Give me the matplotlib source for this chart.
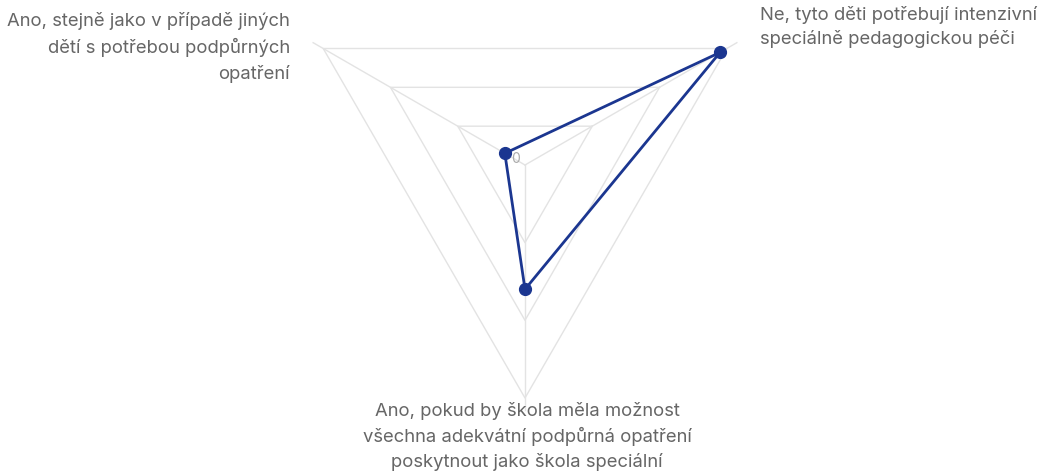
import numpy as np
import matplotlib
matplotlib.use("Agg")
import matplotlib.pyplot as plt

# data
categories = [
    "Ne, tyto děti potřebují intenzivní\nspeciálně pedagogickou péči",
    "Ano, stejně jako v případě jiných\ndětí s potřebou podpůrných\nopatření",
    "Ano, pokud by škola měla možnost\nvšechna adekvátní podpůrná opatření\nposkytnout jako škola speciální",
]
angles_deg = [30, 150, 270]
values = [29, 3, 16]
ring_levels = [10, 20, 30]
r_max = 30

W, H = 1041, 471
fig = plt.figure(figsize=(W / 100, H / 100), dpi=100, facecolor="white")
plt.rcParams["font.family"] = ["Inter", "DejaVu Sans"]

# polar axes placed so that the centre sits at (525, 165) px with radius 233 px
cx, cy, R = 525, 165, 233
ax = fig.add_axes([(cx - R) / W, (H - cy - R) / H, 2 * R / W, 2 * R / H],
                  projection="polar")
ax.set_ylim(0, r_max)
ax.set_axis_off()

theta = np.deg2rad(angles_deg)
theta_closed = np.append(theta, theta[0])

grid_col = "#e3e3e3"
for lvl in ring_levels:
    ax.plot(theta_closed, [lvl] * len(theta_closed), color=grid_col,
            lw=1.0, zorder=1, clip_on=False)
for t in theta:
    ax.plot([t, t], [0, r_max * 1.05], color=grid_col, lw=1.0,
            zorder=1, clip_on=False)

line_col = "#1b3690"
vals_closed = values + values[:1]
ax.plot(theta_closed, vals_closed, color=line_col, lw=2.0, zorder=3,
        clip_on=False)
ax.plot(theta, values, "o", color=line_col, ms=8.5, zorder=4, clip_on=False)

# tick label at centre
ax.annotate("0", xy=(0, 0), xytext=(-7, 4), textcoords="offset points",
            fontsize=10, color="#aaaaaa", ha="center", va="center", zorder=2)

# axis labels (pixel positions converted to figure fractions)
txt_col = "#666666"
fs = 13.3
fig.text(290 / W, 1 - 12 / H, categories[1], ha="right", va="top",
         fontsize=fs, color=txt_col, linespacing=1.55, multialignment="right")
fig.text(760 / W, 1 - 6 / H, categories[0], ha="left", va="top",
         fontsize=fs, color=txt_col, linespacing=1.4, multialignment="left")
fig.text(527 / W, 1 - 402 / H, categories[2], ha="center", va="top",
         fontsize=fs, color=txt_col, linespacing=1.48, multialignment="center")

fig.savefig("out.png", dpi=100, facecolor="white")
